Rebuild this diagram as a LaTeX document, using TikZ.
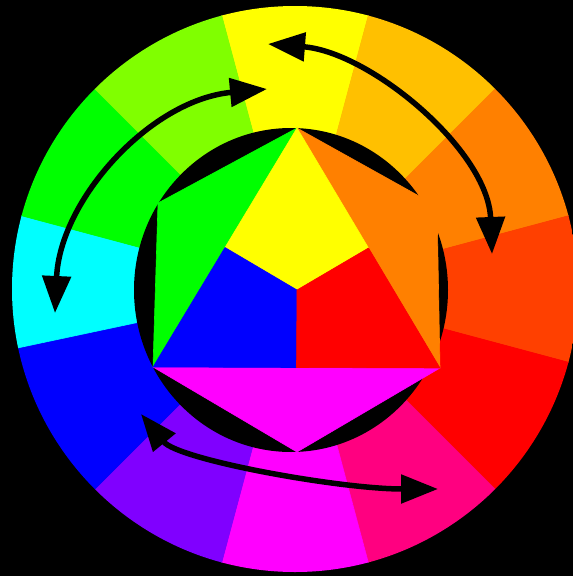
\documentclass[tikz,border=0pt]{standalone}
\usetikzlibrary{arrows.meta}
\definecolor{cYellow}{HTML}{FFFF00}
\definecolor{cYO}{HTML}{FFC000}
\definecolor{cOrange}{HTML}{FF8000}
\definecolor{cRO}{HTML}{FF4000}
\definecolor{cRed}{HTML}{FF0000}
\definecolor{cRM}{HTML}{FF0080}
\definecolor{cMag}{HTML}{FF00FF}
\definecolor{cViolet}{HTML}{8000FF}
\definecolor{cBlue}{HTML}{0000FF}
\definecolor{cCyan}{HTML}{00FFFF}
\definecolor{cGreen}{HTML}{00FF00}
\definecolor{cYG}{HTML}{80FF00}
\begin{document}
\begin{tikzpicture}[x=1pt,y=-1pt,
  piece/.style={fill=#1, draw=#1, line width=0.6pt, line join=round},
  dblarrow/.style={line width=5.5pt,
    {Triangle[length=37pt,width=28pt]}-{Triangle[length=37pt,width=28pt]}}]
\fill[black] (0,0) rectangle (573,576);
\useasboundingbox (0,0) rectangle (573,576);
% outer ring of twelve colours
\begin{scope}
\clip (0,0) rectangle (573,576);
\clip (295,289) circle[radius=283];
\foreach \c/\ta/\tc in {cYellow/-105/-75, cYO/-75/-45, cOrange/-45/-15,
    cRO/-15/15, cRed/15/45, cRM/45/75, cMag/75/105, cViolet/105/135,
    cBlue/135/168, cCyan/168/195, cGreen/195/225, cYG/225/255}{
  \pgfmathsetmacro\tb{(\ta+\tc)/2}
  \pgfmathsetmacro\xa{295+420*cos(\ta)}
  \pgfmathsetmacro\ya{289+420*sin(\ta)}
  \pgfmathsetmacro\xb{295+440*cos(\tb)}
  \pgfmathsetmacro\yb{289+440*sin(\tb)}
  \pgfmathsetmacro\xc{295+420*cos(\tc)}
  \pgfmathsetmacro\yc{289+420*sin(\tc)}
  \fill[piece=\c] (295,289) -- (\xa,\ya) -- (\xb,\yb) -- (\xc,\yc) -- cycle;
}
\end{scope}
% inner black disc
\fill[black] (291,290) ellipse[x radius=157, y radius=162];
% hexagon
\coordinate (T) at (297,128);
\coordinate (UR) at (437,206);
\coordinate (LR) at (440,368);
\coordinate (B) at (297,452);
\coordinate (LL) at (153,367);
\coordinate (UL) at (158,203);
\coordinate (ML) at (225,247.5);
\coordinate (MR) at (368.5,248);
\coordinate (MB) at (296.5,367.5);
\coordinate (C) at (297,290);
\fill[piece=cGreen] (T) -- (UL) -- (LL) -- cycle;
\fill[piece=cOrange] (T) -- (UR) -- (LR) -- cycle;
\fill[piece=cMag] (LL) -- (B) -- (LR) -- cycle;
\fill[piece=cYellow] (T) -- (ML) -- (C) -- (MR) -- cycle;
\fill[piece=cBlue] (ML) -- (LL) -- (MB) -- (C) -- cycle;
\fill[piece=cRed] (C) -- (MB) -- (LR) -- (MR) -- cycle;
% arrows
\coordinate (a1s) at (55,313);
\coordinate (a1e) at (267,89);
\coordinate (a2s) at (268,44);
\coordinate (a2e) at (492,254);
\coordinate (a3s) at (141,414);
\coordinate (a3e) at (438,489);
\draw[dblarrow] (a1s) .. controls (60,200) and (150,100) .. (a1e);
\draw[dblarrow] (a2s) .. controls (370,52) and (488,150) .. (a2e);
\draw[dblarrow] (a3s) .. controls (178.5,460) and (340,489) .. (a3e);
\end{tikzpicture}
\end{document}
